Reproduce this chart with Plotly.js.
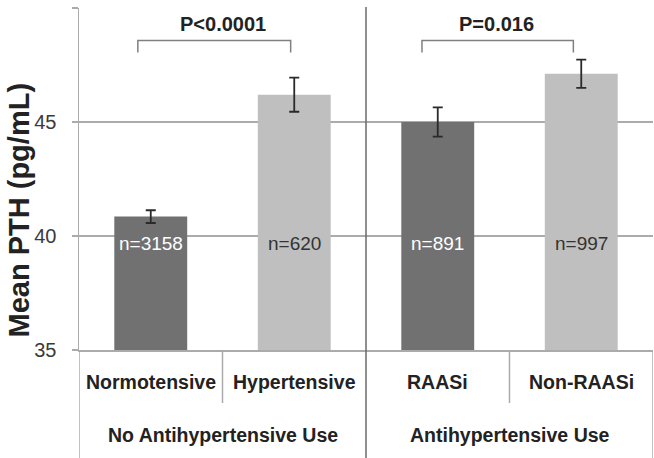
<!DOCTYPE html>
<html>
<head>
<meta charset="utf-8">
<script src="https://cdn.plot.ly/plotly-3.0.1.min.js"></script>
<style>html,body{margin:0;padding:0;background:#fff;}#chart{width:654px;height:458px;}</style>
</head>
<body>
<div id="chart"></div>
<script>
// ---- data ----
const categories = ["Normotensive", "Hypertensive", "RAASi", "Non-RAASi"];
const groups = ["No Antihypertensive Use", "Antihypertensive Use"];
const meanPTH = [40.85, 46.2, 45.0, 47.12];
const errPTH = [0.28, 0.75, 0.64, 0.62];
const nLabels = ["n=3158", "n=620", "n=891", "n=997"];
const pValues = ["P<0.0001", "P=0.016"];
const yTicks = [35, 40, 45, 50];

// ---- styles ----
const FONT = "Liberation Sans, Arial, Helvetica, sans-serif";
const DARK = "#717171", LIGHT = "#bfbfbf";
const barColors = [DARK, LIGHT, DARK, LIGHT];
const nColors = ["#ffffff", "#333333", "#ffffff", "#333333"];
const GRID = "#ababab";
const xIdx = categories.map((c, i) => i);

const trace = {
  type: "bar",
  x: xIdx,
  y: meanPTH,
  marker: {color: barColors, line: {width: 0}},
  error_y: {type: "data", array: errPTH, visible: true, color: "#2a2a2a", thickness: 1.8, width: 5},
  hoverinfo: "skip"
};

const annotations = [];
// n labels inside bars
nLabels.forEach((t, i) => annotations.push({
  x: i, y: 39.65, xref: "x", yref: "y", text: t, showarrow: false,
  xanchor: "center", yanchor: "middle",
  font: {family: FONT, size: 19, color: nColors[i]}
}));
// category labels
categories.forEach((c, i) => annotations.push({
  x: i, y: -0.094, xref: "x", yref: "paper", text: c, showarrow: false,
  xanchor: "center", yanchor: "middle",
  font: {family: FONT, size: 19.5, color: "#222222", weight: "bold"}
}));
// group labels
groups.forEach((g, j) => annotations.push({
  x: 2 * j + 0.5, y: -0.249, xref: "x", yref: "paper", text: g, showarrow: false,
  xanchor: "center", yanchor: "middle",
  font: {family: FONT, size: 19.5, color: "#222222", weight: "bold"}
}));
// p-value brackets: [left, right] in category units, and text centre
const brackets = [[-0.09, 0.975], [1.89, 2.945]];
const pTextX = [0.5, 2.41];
const shapes = [];
brackets.forEach((b, j) => {
  const top = 48.57, bot = 48.05;
  shapes.push({type: "path", xref: "x", yref: "y",
    path: `M ${b[0]} ${bot} L ${b[0]} ${top} L ${b[1]} ${top} L ${b[1]} ${bot}`,
    line: {color: "#808080", width: 1.5}});
  annotations.push({
    x: pTextX[j], y: 49.3, xref: "x", yref: "y", text: pValues[j], showarrow: false,
    xanchor: "center", yanchor: "middle",
    font: {family: FONT, size: 20, color: "#222222", weight: "bold"}
  });
});
// y axis title
annotations.push({
  x: -0.105, y: 0.41, xref: "paper", yref: "paper", text: "Mean PTH (pg/mL)", showarrow: false,
  textangle: -90, xanchor: "center", yanchor: "middle",
  font: {family: FONT, size: 29, color: "#222222", weight: "bold"}
});

// category-table lines below axis
const bottom = -0.316, midSep = -0.155;
shapes.push({type: "line", xref: "x", yref: "paper", x0: -0.5, x1: -0.5, y0: 0, y1: bottom, line: {color: GRID, width: 1.5}});
shapes.push({type: "line", xref: "x", yref: "paper", x0: 0.5, x1: 0.5, y0: 0, y1: midSep, line: {color: GRID, width: 1.5}});
shapes.push({type: "line", xref: "x", yref: "paper", x0: 2.5, x1: 2.5, y0: 0, y1: midSep, line: {color: GRID, width: 1.5}});
shapes.push({type: "line", xref: "x", yref: "paper", x0: 3.5, x1: 3.5, y0: 0, y1: bottom, line: {color: GRID, width: 1.5}});
shapes.push({type: "line", xref: "x", yref: "paper", x0: 1.5, x1: 1.5, y0: 1.003, y1: bottom, line: {color: "#6a6a6a", width: 1.5}});

const layout = {
  width: 654, height: 458,
  margin: {l: 79, r: 1, t: 8, b: 108, pad: 0},
  paper_bgcolor: "#ffffff", plot_bgcolor: "#ffffff",
  showlegend: false,
  bargap: 0.492,
  xaxis: {
    type: "linear", range: [-0.5, 3.5], showticklabels: false, showgrid: false,
    zeroline: false, showline: true, linecolor: GRID, linewidth: 1.5, ticks: "", fixedrange: true
  },
  yaxis: {
    range: [35, 50], tickvals: yTicks, ticktext: yTicks.map(String),
    showgrid: true, gridcolor: GRID, gridwidth: 1.5, zeroline: false,
    showline: true, linecolor: GRID, linewidth: 1.5,
    ticks: "outside", ticklen: 6, tickcolor: GRID, tickwidth: 1.5,
    ticklabelstandoff: 11,
    tickfont: {family: FONT, size: 20, color: "#3a3a3a"}, fixedrange: true
  },
  shapes: shapes,
  annotations: annotations
};

Plotly.newPlot("chart", [trace], layout, {displayModeBar: false, staticPlot: true});
</script>
</body>
</html>
